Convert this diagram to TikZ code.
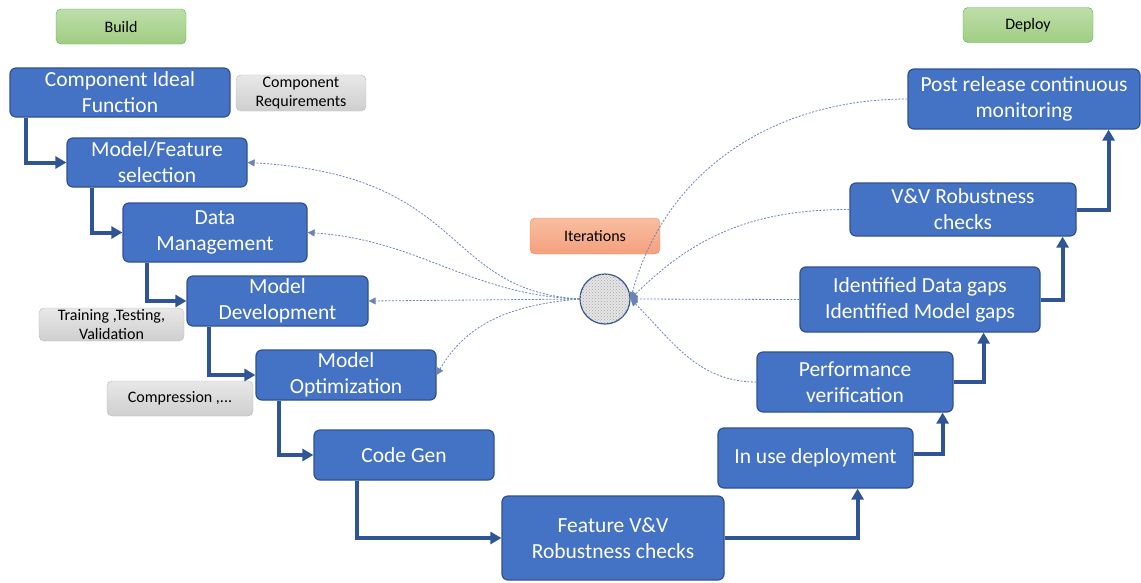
\documentclass[tikz,border=0pt]{standalone}
\usepackage{fontspec}
\setmainfont{Carlito}
\usetikzlibrary{shapes,arrows.meta,positioning,patterns}
\definecolor{stepblue}{HTML}{4472C4}
\definecolor{stepedge}{HTML}{2F528F}
\definecolor{flowblue}{HTML}{2F5597}
\definecolor{iterblue}{HTML}{6A84B4}
\tikzstyle{stage} = [rectangle, rounded corners=6pt, draw=stepedge, line width=1.2pt, fill=stepblue, text=white, align=center, inner sep=0pt, font=\fontsize{21.5}{26}\selectfont]
\tikzstyle{note} = [rectangle, rounded corners=5pt, draw=gray!55, top color=gray!18, bottom color=gray!38, align=center, inner sep=0pt, minimum width=130pt, font=\fontsize{16}{19}\selectfont]
\tikzstyle{phase} = [note, draw=green!45!gray, top color={rgb,255:red,190;green,222;blue,170}, bottom color={rgb,255:red,160;green,205;blue,130}, minimum height=35pt]
\tikzstyle{iterbox} = [note, draw={rgb,255:red,230;green,140;blue,100}, top color={rgb,255:red,248;green,190;blue,160}, bottom color={rgb,255:red,244;green,160;blue,125}, minimum height=36pt]
\tikzstyle{flow} = [draw, line width=4pt, color=flowblue, -{Triangle[length=11pt,width=12pt]}]
\tikzstyle{iterline} = [draw, dash pattern=on 2pt off 1.5pt, line width=0.8pt, color=iterblue, -{Triangle[length=7pt,width=7pt]}]

\begin{document}
\begin{tikzpicture}[x=1pt,y=-1pt]
  \useasboundingbox (0,0) rectangle (1141,582);

  % phases
  \node[phase] (build) at (121,26.5) {Build};
  \node[phase] (deploy) at (1028,25) {Deploy};
  \node[iterbox] (iter) at (595,236) {Iterations};

  % build side
  \node[stage, minimum width=220pt, minimum height=49pt] (cif) at (120,92.5) {Component Ideal\\Function};
  \node[note, minimum height=36pt] (req) at (301,93) {Component\\Requirements};
  \node[stage, minimum width=180pt, minimum height=49pt] (mfs) at (157,162.5) {Model/Feature\\selection};
  \node[stage, minimum width=184pt, minimum height=59pt] (dm) at (215,232.5) {Data\\Management};
  \node[stage, minimum width=181pt, minimum height=50pt] (md) at (277.5,301) {Model\\Development};
  \node[note, minimum width=145pt, minimum height=33pt] (ttv) at (111.5,324.5) {Training ,Testing,\\Validation};
  \node[stage, minimum width=180pt, minimum height=50pt] (mo) at (346,375) {Model\\Optimization};
  \node[note, minimum width=146pt, minimum height=35pt] (comp) at (180,398.5) {Compression ,...};
  \node[stage, minimum width=180pt, minimum height=50pt] (cg) at (404,455) {Code Gen};
  \node[stage, minimum width=222pt, minimum height=84pt] (fvv) at (613,538) {Feature V\&V\\Robustness checks};

  % deploy side
  \node[stage, minimum width=195pt, minimum height=60pt] (iud) at (815.5,458) {In use deployment};
  \node[stage, minimum width=196pt, minimum height=60pt] (perf) at (855,382) {Performance\\verification};
  \node[stage, minimum width=240pt, minimum height=65pt] (gaps) at (920,299.5) {Identified Data gaps\\Identified Model gaps};
  \node[stage, minimum width=226pt, minimum height=53pt] (vv) at (963,209.5) {V\&V Robustness\\checks};
  \node[stage, minimum width=232pt, minimum height=60pt] (post) at (1024,99) {Post release continuous\\monitoring};

  % iteration hub
  \node[circle, draw=stepedge, line width=1.2pt, minimum size=50pt, inner sep=0pt, fill=gray!20, postaction={pattern=crosshatch dots, pattern color=gray!70}] (hub) at (605,299) {};

  % main flow
  \path[flow] ([xshift=17pt]cif.south west) |- (mfs.west);
  \path[flow] ([xshift=26pt]mfs.south west) |- (dm.west);
  \path[flow] ([xshift=25pt]dm.south west) |- (md.west);
  \path[flow] ([xshift=23pt]md.south west) |- (mo.west);
  \path[flow] ([xshift=24pt]mo.south west) |- (cg.west);
  \path[flow] ([xshift=44pt]cg.south west) |- (fvv.west);
  \path[flow] (fvv.east) -| ([xshift=-56pt]iud.south east);
  \path[flow] ([yshift=4pt]iud.east) -| ([xshift=-11pt]perf.south east);
  \path[flow] (perf.east) -| ([xshift=-57pt]gaps.south east);
  \path[flow] (gaps.east) -| ([xshift=-14pt]vv.south east);
  \path[flow] (vv.east) -| ([xshift=-32pt]post.south east);

  % iterations
  \path[iterline] (hub.west) .. controls (440,290) and (470,175) .. (mfs.east);
  \path[iterline] (hub.west) .. controls (470,295) and (420,240) .. (dm.east);
  \path[iterline] (hub.west) -- (md.east);
  \path[iterline] (hub.west) to[out=185,in=60] (mo.east);
  \path[iterline] (post.west) to[out=180,in=75] (hub.east);
  \path[iterline] (vv.west) to[out=180,in=45] (hub.east);
  \path[iterline] (gaps.west) -- (hub.east);
  \path[iterline] (perf.west) to[out=180,in=-45] (hub.east);

\end{tikzpicture}
\end{document}
